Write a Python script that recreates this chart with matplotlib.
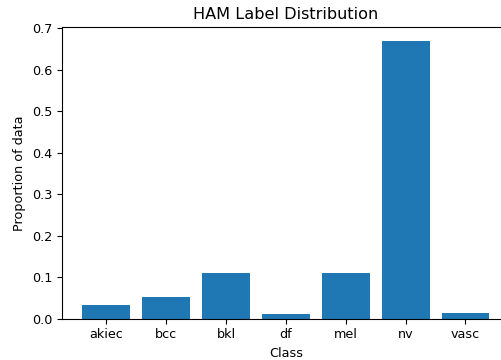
import matplotlib
matplotlib.use("Agg")
import matplotlib.pyplot as plt

# HAM10000 label distribution
classes = ["akiec", "bcc", "bkl", "df", "mel", "nv", "vasc"]
counts = [327, 514, 1099, 115, 1113, 6705, 142]
total = sum(counts)
proportions = [c / total for c in counts]

plt.rcParams["font.size"] = 9.2

fig = plt.figure(figsize=(5.02, 3.6), dpi=100)
# right side of the axes runs off the picture, like the cropped reference
ax = fig.add_axes([0.1235, 0.1147, 0.892, 0.810])

ax.bar(classes, proportions, color="#1f77b4")

ax.set_title("HAM Label Distribution", fontsize=11.6)
ax.set_xlabel("Class")
ax.set_ylabel("Proportion of data")

fig.savefig("out.png", dpi=100)
